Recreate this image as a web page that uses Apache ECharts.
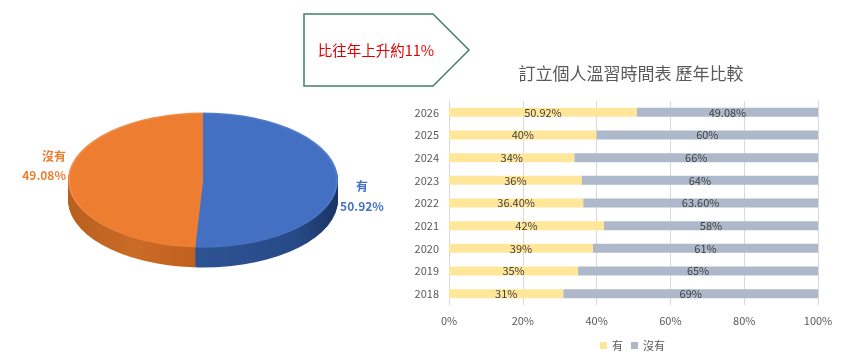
<!DOCTYPE html>
<html><head><meta charset="utf-8">
<script src="https://cdn.jsdelivr.net/npm/echarts@6/dist/echarts.min.js"></script>
<style>
html,body{margin:0;padding:0;background:#fff;}
#wrap{position:relative;width:852px;height:363px;overflow:hidden;}
#main{position:absolute;left:0;top:0;width:852px;height:363px;}
#pie{position:absolute;left:0;top:0;width:852px;height:726px;transform:scaleY(0.5);transform-origin:0 0;}
</style></head>
<body>
<div id="wrap"><div id="main"></div><div id="pie"></div></div>
<script>
// ---- data ----
var years = ['2018','2019','2020','2021','2022','2023','2024','2025','2026'];
var yesVals = [31, 35, 39, 42, 36.4, 36, 34, 40, 50.92];
var noVals  = [69, 65, 61, 58, 63.6, 64, 66, 60, 49.08];
var seriesNames = ['有', '沒有'];
var pieNames = ['有', '沒有'];
var pieVals = [50.92, 49.08];
var xTicks = [0, 20, 40, 60, 80, 100];
var titleText = '訂立個人溫習時間表 歷年比較';
var calloutText = '比往年上升約11%';

var FONT = '"Microsoft JhengHei","Noto Sans CJK TC","Noto Sans",sans-serif';
function fmt(v){ return (Math.round(v) === v ? String(v) : v.toFixed(2)) + '%'; }

// ---- main chart ----
var main = echarts.init(document.getElementById('main'), null, {renderer:'canvas'});
main.setOption({
  animation:false,
  textStyle:{fontFamily:FONT},
  title:{text:titleText, left:626, top:60, textAlign:'center',
    textStyle:{fontSize:17, fontWeight:'normal', color:'#595959', fontFamily:FONT}},
  legend:{data:seriesNames, bottom:7, itemWidth:7, itemHeight:7, itemGap:8,
    icon:'rect', textStyle:{color:'#595959', fontSize:11, fontFamily:FONT}, left:595},
  grid:{left:449, right:34, top:101, bottom:58, containLabel:false},
  xAxis:{type:'value', min:xTicks[0], max:xTicks[xTicks.length-1], interval:xTicks[1]-xTicks[0],
    axisLabel:{formatter:function(v){return v+'%';}, color:'#595959', fontSize:11, margin:10},
    splitLine:{show:true, lineStyle:{color:'#D9D9D9', width:1}},
    axisLine:{show:false}, axisTick:{show:false}},
  yAxis:{type:'category', data:years,
    axisLabel:{color:'#595959', fontSize:11, margin:10},
    axisLine:{show:true, lineStyle:{color:'#D9D9D9'}}, axisTick:{show:false}},
  series:[
    {name:seriesNames[0], type:'bar', stack:'s', data:yesVals, barWidth:9,
      itemStyle:{color:'#FFE699'},
      label:{show:true, position:'inside', color:'#404040', fontSize:11,
        formatter:function(p){return fmt(p.value);}}},
    {name:seriesNames[1], type:'bar', stack:'s', data:noVals, barWidth:9,
      itemStyle:{color:'#ADB9CA'},
      label:{show:true, position:'inside', color:'#404040', fontSize:11,
        formatter:function(p){return fmt(p.value);}}}
  ],
  graphic:[
    {type:'polygon', shape:{points:[[304,14],[433,14],[469,50],[433,86],[304,86]]},
      style:{fill:'#fff', stroke:'#41806E', lineWidth:1.5}},
    {type:'text', x:376, y:50, style:{text:calloutText, fill:'#E00000', fontSize:14.5,
      fontFamily:FONT, align:'center', verticalAlign:'middle'}},
    {type:'text', x:66, y:156, style:{text:pieNames[1], fill:'#ED7D31', fontSize:12, fontWeight:'bold',
      fontFamily:FONT, align:'right', verticalAlign:'middle'}},
    {type:'text', x:66, y:175, style:{text:fmt(pieVals[1]), fill:'#ED7D31', fontSize:12, fontWeight:'bold',
      fontFamily:FONT, align:'right', verticalAlign:'middle'}},
    {type:'text', x:362, y:186, style:{text:pieNames[0], fill:'#4472C4', fontSize:12, fontWeight:'bold',
      fontFamily:FONT, align:'center', verticalAlign:'middle'}},
    {type:'text', x:362, y:206, style:{text:fmt(pieVals[0]), fill:'#4472C4', fontSize:12, fontWeight:'bold',
      fontFamily:FONT, align:'center', verticalAlign:'middle'}}
  ]
});

// ---- 3D-looking pie (vertically squashed) ----
var pie = echarts.init(document.getElementById('pie'), null, {renderer:'canvas'});
var pieData = pieNames.map(function(n,i){return {name:n, value:pieVals[i]};});
var cx = 203, cy = 360, R = 135, depth = 40;
var sideBlue = new echarts.graphic.LinearGradient(0,0,1,0,[{offset:0,color:'#2E5394'},{offset:0.7,color:'#274A88'},{offset:1,color:'#1B3563'}]);
var sideOrange = new echarts.graphic.LinearGradient(0,0,1,0,[{offset:0,color:'#B8601F'},{offset:0.5,color:'#CB6B27'},{offset:1,color:'#BE5F1E'}]);
var pieSeries = [];
for (var k = depth; k > 0; k -= 2) {
  pieSeries.push({type:'pie', silent:true, center:[cx, cy + k], radius:R, startAngle:90, clockwise:true,
    label:{show:false}, labelLine:{show:false},
    data:pieData.map(function(d,i){return {name:d.name, value:d.value,
      itemStyle:{color: i===0 ? sideBlue : sideOrange}};})});
}
// rim highlight
pieSeries.push({type:'pie', silent:true, center:[cx, cy], radius:R, startAngle:90, clockwise:true,
  label:{show:false}, labelLine:{show:false},
  data:pieData.map(function(d,i){return {name:d.name, value:d.value,
    itemStyle:{color: i===0 ? '#4F7DCB' : '#F08C48'}};})});
pieSeries.push({type:'pie', silent:true, center:[cx, cy+1], radius:R-2, startAngle:90, clockwise:true,
  label:{show:false}, labelLine:{show:false},
  data:pieData.map(function(d,i){return {name:d.name, value:d.value,
    itemStyle:{color: i===0 ? '#4370C2' : '#EC7D31'}};})});
pie.setOption({animation:false, series:pieSeries});
</script>
</body></html>
